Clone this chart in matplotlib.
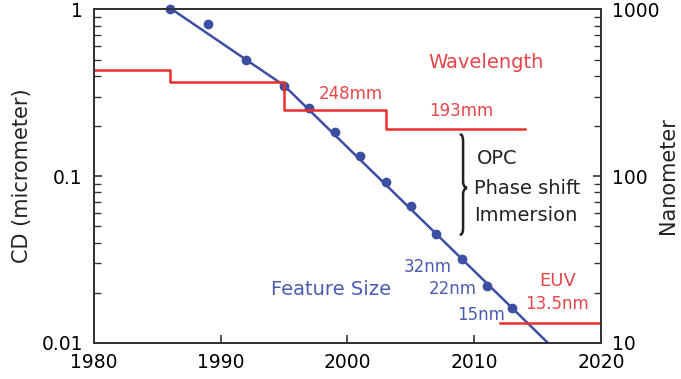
import matplotlib
matplotlib.use("Agg")
import matplotlib.pyplot as plt
from matplotlib.path import Path
from matplotlib.patches import PathPatch
from matplotlib.ticker import FixedLocator, FixedFormatter, LogLocator, NullFormatter

plt.rcParams['font.family'] = ['DejaVu Sans']

# Feature size data points (micrometer)
feat_years = [1986, 1989, 1992, 1995, 1997, 1999, 2001, 2003, 2005, 2007, 2009, 2011, 2013]
feat_cd = [1.0, 0.82, 0.5, 0.35, 0.255, 0.183, 0.133, 0.092, 0.066, 0.045, 0.032, 0.022, 0.0163]
# Trend line (micrometer)
trend_years = [1986, 1995, 2016]
trend_cd = [1.02, 0.35, 0.0097]
# Wavelength steps (nanometer)
wl_years = [1980, 1986, 1995, 2003, 2014]
wl_nm = [436, 365, 248, 193, 193]
euv_years = [2012, 2020]
euv_nm = [13.2, 13.2]

BLUE = '#3d4fa3'
BLUE_T = '#4a5cb0'
RED = '#e8302c'
RED_T = '#e8454a'
SPINE = '#333333'
TXT = '#222222'

fig = plt.figure(figsize=(6.81, 3.79), dpi=100)
ax = fig.add_axes([0.138, 0.095, 0.7445, 0.88])
ax2 = ax.twinx()

ax.set_xlim(1980, 2020)
ax.set_yscale('log')
ax.set_ylim(0.01, 1)
ax2.set_yscale('log')
ax2.set_ylim(10, 1000)

ax.plot(trend_years, trend_cd, color=BLUE, lw=1.8, zorder=3, solid_capstyle='butt')
ax.plot(feat_years, feat_cd, 'o', color=BLUE, ms=6, zorder=4, clip_on=False)

ax2.step(wl_years, wl_nm, where='post', color=RED, lw=1.8)
ax2.plot(euv_years, euv_nm, color=RED, lw=1.8)

# ticks
ax.set_xticks([1980, 1990, 2000, 2010, 2020])
ax.tick_params(axis='x', direction='in', length=6, width=1.2, top=False, labelsize=13.5, pad=7, color=SPINE)
ax.yaxis.set_major_locator(FixedLocator([0.01, 0.1, 1]))
ax.yaxis.set_major_formatter(FixedFormatter(['0.01', '0.1', '1']))
ax.yaxis.set_minor_locator(LogLocator(base=10, subs=range(2, 10)))
ax.yaxis.set_minor_formatter(NullFormatter())
ax.tick_params(axis='y', which='major', direction='in', length=6, width=1.2, labelsize=13.5, pad=8, color=SPINE)
ax.tick_params(axis='y', which='minor', direction='in', length=5, width=1.0, color=SPINE)

ax2.yaxis.set_major_locator(FixedLocator([10, 100, 1000]))
ax2.yaxis.set_major_formatter(FixedFormatter(['10', '100', '1000']))
ax2.yaxis.set_minor_locator(LogLocator(base=10, subs=range(2, 10)))
ax2.yaxis.set_minor_formatter(NullFormatter())
ax2.tick_params(axis='y', which='major', direction='in', length=6, width=1.2, labelsize=13.5, pad=8, color=SPINE)
ax2.tick_params(axis='y', which='minor', direction='in', length=5, width=1.0, color=SPINE)

for a in (ax, ax2):
    for s in a.spines.values():
        s.set_linewidth(1.3)
        s.set_color(SPINE)

# axis titles placed explicitly
fig.text(0.032, 0.536, 'CD (micrometer)', fontsize=15, rotation=90, ha='center', va='center', color=TXT)
fig.text(0.981, 0.538, 'Nanometer', fontsize=15, rotation=90, ha='center', va='center', color=TXT)

# annotations
ax.text(2010.9, 0.478, 'Wavelength', color=RED_T, fontsize=14, ha='center', va='center')
ax.text(2000.3, 0.311, '248mm', color=RED_T, fontsize=12, ha='center', va='center')
ax.text(2009.0, 0.246, '193mm', color=RED_T, fontsize=12, ha='center', va='center')
ax.text(2016.6, 0.0236, 'EUV', color=RED_T, fontsize=13, ha='center', va='center')
ax.text(2016.5, 0.0171, '13.5nm', color=RED_T, fontsize=12, ha='center', va='center')

ax.text(1998.7, 0.0208, 'Feature Size', color=BLUE_T, fontsize=14, ha='center', va='center')
ax.text(2006.3, 0.0286, '32nm', color=BLUE_T, fontsize=12, ha='center', va='center')
ax.text(2008.3, 0.0211, '22nm', color=BLUE_T, fontsize=12, ha='center', va='center')
ax.text(2010.5, 0.0147, '15nm', color=BLUE_T, fontsize=12, ha='center', va='center')

ax.text(2010.2, 0.127, 'OPC', color=TXT, fontsize=14, ha='left', va='center')
ax.text(2010.0, 0.085, 'Phase shift', color=TXT, fontsize=14, ha='left', va='center')
ax.text(2010.0, 0.0578, 'Immersion', color=TXT, fontsize=14, ha='left', va='center')

# curly brace in axes fraction coordinates
x0, w = 0.728, 0.008
top, bot, mid = 0.625, 0.325, 0.465
verts = [
    (x0 - w * 0.6, top), (x0, top), (x0, top - 0.02),
    (x0, mid + 0.02),
    (x0, mid), (x0 + w, mid), (x0 + w, mid),
    (x0 + w, mid), (x0, mid), (x0, mid - 0.02),
    (x0, bot + 0.02),
    (x0, bot), (x0 - w * 0.6, bot), (x0 - w * 0.6, bot),
]
codes = [Path.MOVETO, Path.CURVE3, Path.CURVE3,
         Path.LINETO,
         Path.CURVE4, Path.CURVE4, Path.CURVE4,
         Path.CURVE4, Path.CURVE4, Path.CURVE4,
         Path.LINETO,
         Path.CURVE4, Path.CURVE4, Path.CURVE4]
ax.add_patch(PathPatch(Path(verts, codes), transform=ax.transAxes, fill=False,
                       lw=1.8, color=TXT, capstyle='round'))

fig.savefig('out.png', dpi=100)
